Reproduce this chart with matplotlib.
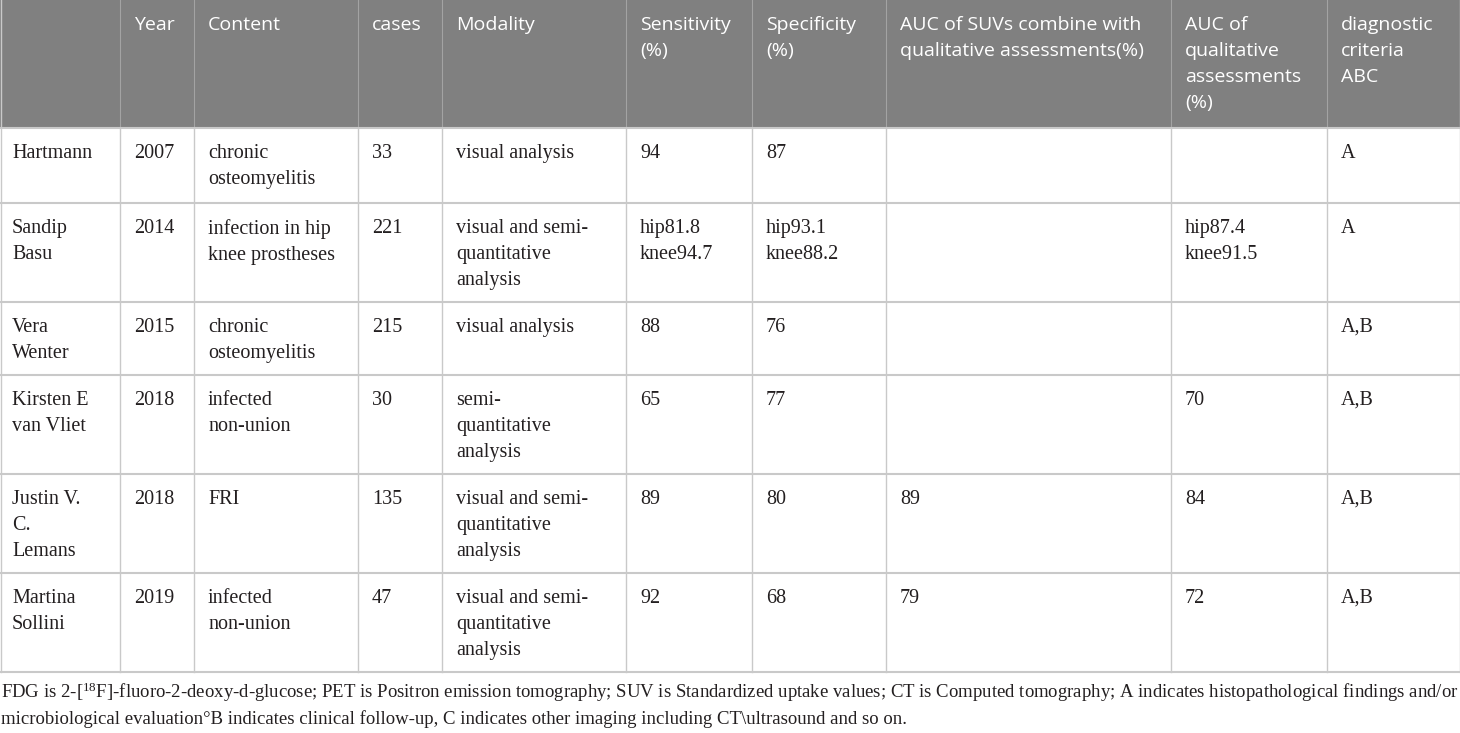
import matplotlib.pyplot as plt
from matplotlib.patches import Rectangle

# table content
headers = ["", "Year", "Content", "cases", "Modality",
           "Sensitivity\n(%)", "Specificity\n(%)",
           "AUC of SUVs combine with\nqualitative assessments(%)",
           "AUC of\nqualitative\nassessments\n(%)",
           "diagnostic\ncriteria\nABC"]
authors = ["Hartmann", "Sandip\nBasu", "Vera\nWenter", "Kirsten E\nvan Vliet",
           "Justin V.\nC.\nLemans", "Martina\nSollini"]
years = ["2007", "2014", "2015", "2018", "2018", "2019"]
content = ["chronic\nosteomyelitis", "infection in hip\nknee prostheses",
           "chronic\nosteomyelitis", "infected\nnon-union", "FRI",
           "infected\nnon-union"]
cases = ["33", "221", "215", "30", "135", "47"]
modality = ["visual analysis", "visual and semi-\nquantitative\nanalysis",
            "visual analysis", "semi-\nquantitative\nanalysis",
            "visual and semi-\nquantitative\nanalysis",
            "visual and semi-\nquantitative\nanalysis"]
sensitivity = ["94", "hip81.8\nknee94.7", "88", "65", "89", "92"]
specificity = ["87", "hip93.1\nknee88.2", "76", "77", "80", "68"]
auc_combined = ["", "", "", "", "89", "79"]
auc_qualitative = ["", "hip87.4\nknee91.5", "", "70", "84", "72"]
criteria = ["A", "A", "A,B", "A,B", "A,B", "A,B"]

footnote = ("FDG is 2-[$\\mathregular{^{18}}$F]-fluoro-2-deoxy-d-glucose; PET is Positron emission "
            "tomography; SUV is Standardized uptake values; CT is Computed tomography; "
            "A indicates histopathological findings and/or\n"
            "microbiological evaluation\u00b0B indicates clinical follow-up, C indicates other "
            "imaging including CT\\ultrasound and so on.")

columns = [authors, years, content, cases, modality, sensitivity, specificity,
           auc_combined, auc_qualitative, criteria]

# layout in pixels
col_edges = [0, 120, 194, 358, 442, 626, 752, 886, 1171, 1327, 1460]
row_edges = [0, 128, 203, 302, 375, 474, 573, 672]
pad_x = 14
header_bg = "#808080"
grid_col = "#c9c9c9"
text_col = "#231f20"

fig = plt.figure(figsize=(14.6, 7.33), dpi=100)
ax = fig.add_axes([0, 0, 1, 1])
ax.set_xlim(0, 1460)
ax.set_ylim(733, 0)
ax.axis("off")

# header
ax.add_patch(Rectangle((0, 0), 1460, row_edges[1], color=header_bg, lw=0))
for j, h in enumerate(headers):
    ax.text(col_edges[j] + pad_x, 16, h, ha="left", va="top", color="white",
            fontsize=14, family="Open Sans", linespacing=1.56)

# body
for i in range(len(authors)):
    top = row_edges[i + 1]
    for j, col in enumerate(columns):
        ax.text(col_edges[j] + pad_x - (2 if j == 0 else 0), top + 16, col[i],
                ha="left", va="top", color=text_col, fontsize=14.5,
                family="Liberation Serif", linespacing=1.5)

# grid
for x in col_edges[1:-1]:
    ax.plot([x, x], [0, row_edges[1]], color="#a3a3a3", lw=0.8)
    ax.plot([x, x], [row_edges[1], row_edges[-1]], color=grid_col, lw=1.0)
for y in row_edges[1:]:
    ax.plot([0, 1460], [y, y], color=grid_col, lw=1.5)
ax.plot([0.5, 0.5], [0, row_edges[-1]], color=grid_col, lw=1.0)
ax.plot([1459.5, 1459.5], [0, row_edges[-1]], color=grid_col, lw=1.0)

ax.text(1, 681, footnote, ha="left", va="top", color=text_col, fontsize=13.5,
        family="Liberation Serif", linespacing=1.44)

fig.savefig("out.png", dpi=100)
